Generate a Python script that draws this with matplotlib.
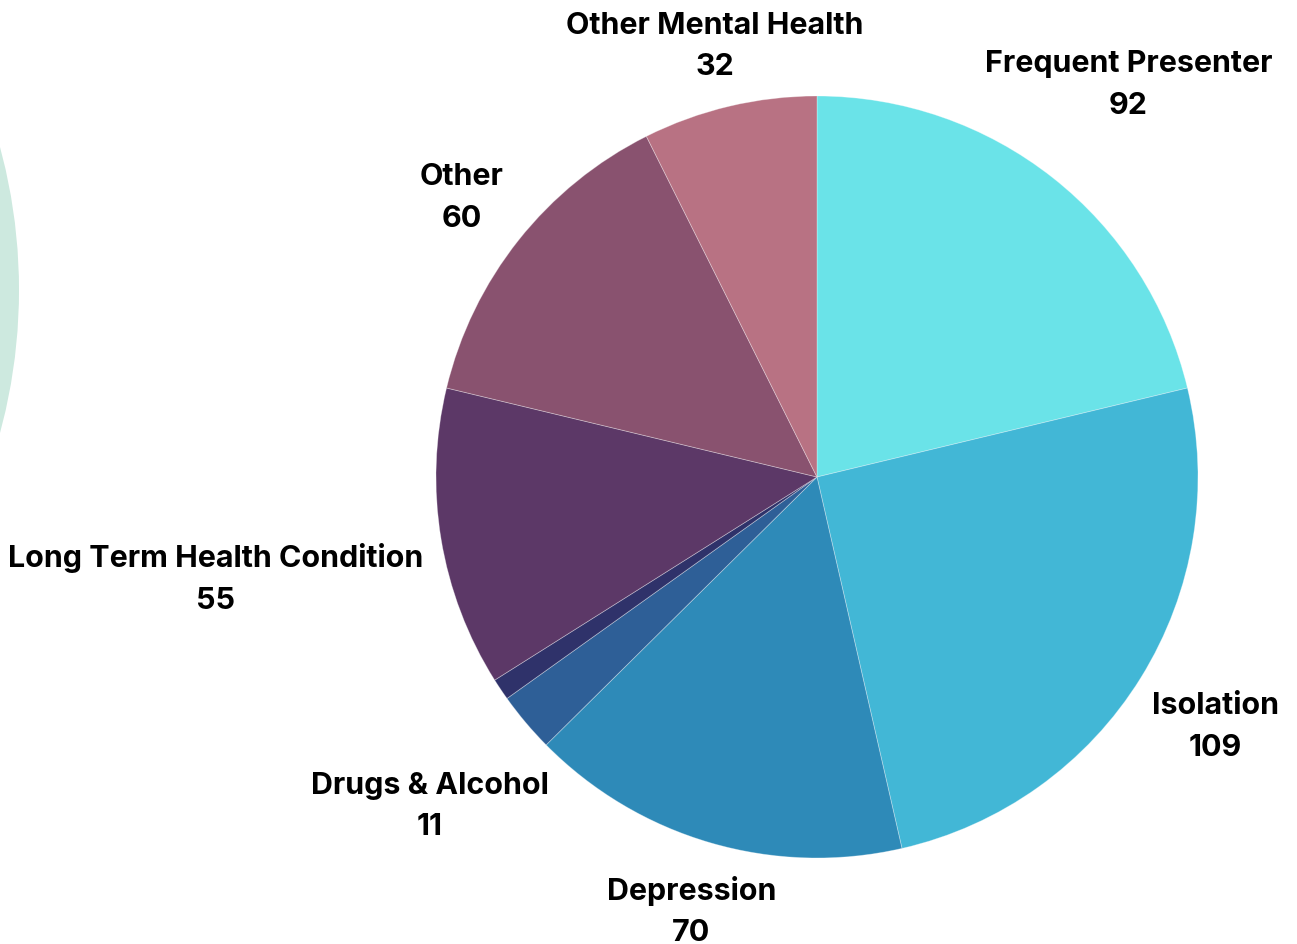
import numpy as np
import matplotlib.pyplot as plt
from matplotlib.patches import Circle

plt.rcParams['font.family'] = ['Inter', 'DejaVu Sans']

categories = ["Frequent Presenter", "Isolation", "Depression", "Drugs & Alcohol",
              "", "Long Term Health Condition", "Other", "Other Mental Health"]
counts = [92, 109, 70, 11, 4, 55, 60, 32]
colors = ["#6ae3e8", "#42b7d6", "#2e8ab8", "#2e5f97",
          "#2f326a", "#5c3867", "#89526f", "#b87283"]
# how far out each label sits, in pie radii
label_dist = [1.32, 1.23, 1.18, 1.33, 0, 1.60, 1.19, 1.17]

W, H = 1297, 944
cx, cy, r = 817, H - 477, 381

fig = plt.figure(figsize=(W / 100, H / 100), dpi=100)
ax = fig.add_axes([0, 0, 1, 1])

# pale decorative disc on the left edge
ax.add_patch(Circle((-529, H - 290), 548, color="#cde9df", lw=0, zorder=0))

wedges, _ = ax.pie(counts, colors=colors, startangle=90, counterclock=False,
                   radius=r, center=(cx, cy), frame=True,
                   wedgeprops=dict(linewidth=0.6, edgecolor=(1, 1, 1, 0.35)))
ax.set_xlim(0, W)
ax.set_ylim(0, H)
ax.set_aspect('equal')
ax.axis('off')

for w, name, val, d in zip(wedges, categories, counts, label_dist):
    if not name:
        continue
    mid = np.deg2rad((w.theta1 + w.theta2) / 2)
    x = cx + d * r * np.cos(mid)
    y = cy + d * r * np.sin(mid) - 3
    ax.text(x, y, f"{name}\n{val}", ha='center', va='center',
            fontsize=21.9, fontweight='bold', color='black', linespacing=1.6)

fig.savefig("out.png", dpi=100, facecolor='white')
